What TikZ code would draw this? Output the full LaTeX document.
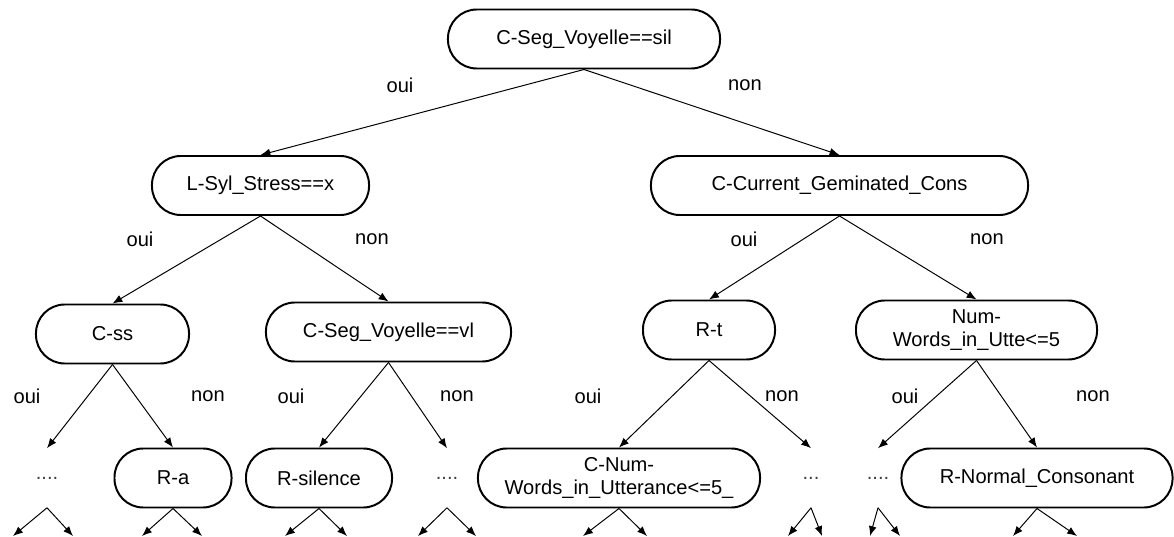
\documentclass[tikz,border=0pt]{standalone}
\usepackage{fontspec}
\setmainfont{Liberation Sans}
\usetikzlibrary{arrows.meta}
\begin{document}
\begin{tikzpicture}[x=0.025cm,y=-0.025cm,
  every node/.style={font=\fontsize{14.3}{16}\selectfont},
  box/.style={draw, line width=1.4pt, rounded corners=0.72cm, minimum height=1.475cm, inner sep=0pt, align=center},
  dotsnode/.style={minimum height=1.475cm, inner sep=0pt, text=black!75},
  conn/.style={-{Latex[length=7pt,width=5.5pt]}, line width=0.7pt}
]
\useasboundingbox (0,0) rectangle (1174,537);

% nodes
\node[box, minimum width=6.8cm] (root) at (584,39) {C-Seg\_Voyelle==sil};
\node[box, minimum width=5.425cm] (lsyl) at (260.5,185.5) {L-Syl\_Stress==x};
\node[box, minimum width=9.425cm] (cur) at (839.5,185.5) {C-Current\_Geminated\_Cons};
\node[box, minimum width=3.825cm] (css) at (112.5,334) {C-ss};
\node[box, minimum width=6.125cm] (segvl) at (388.5,332) {C-Seg\_Voyelle==vl};
\node[box, minimum width=3.3cm] (rt) at (709,330) {R-t};
\node[box, minimum width=6.025cm] (numw) at (976.5,330) {Num-\\Words\_in\_Utte<=5};
\node[dotsnode] (d1) at (47,478) {....};
\node[box, minimum width=2.925cm] (ra) at (173,478) {R-a};
\node[box, minimum width=3.65cm] (rsil) at (319,478) {R-silence};
\node[dotsnode] (d2) at (447,478) {....};
\node[box, minimum width=7.05cm] (cnum) at (619,478) {C-Num-\\Words\_in\_Utterance<=5\_};
\node[dotsnode] (d3) at (811,478) {...};
\node[dotsnode] (d4) at (878,478) {....};
\node[box, minimum width=6.775cm] (rnorm) at (1037,478) {R-Normal\_Consonant};

% labels
\node (l1) at (400,85) {oui};
\node (l2) at (745,85) {non};
\node (l3) at (140,239) {oui};
\node (l4) at (372,239) {non};
\node (l5) at (744,239) {oui};
\node (l6) at (987,239) {non};
\node (l7) at (27,396) {oui};
\node (l8) at (208,396) {non};
\node (l9) at (291,396) {oui};
\node (l10) at (457,396) {non};
\node (l11) at (588,396) {oui};
\node (l12) at (782,396) {non};
\node (l13) at (905,396) {oui};
\node (l14) at (1093,396) {non};

% connectors
\draw[conn] (root.south) -- (lsyl.north);
\draw[conn] (root.south) -- (cur.north);
\draw[conn] (lsyl.south) -- (css.north);
\draw[conn] (lsyl.south) -- (segvl.north);
\draw[conn] (cur.south) -- (rt.north);
\draw[conn] (cur.south) -- (numw.north);
\draw[conn] (css.south) -- (d1.north);
\draw[conn] (css.south) -- (ra.north);
\draw[conn] (segvl.south) -- (rsil.north);
\draw[conn] (segvl.south) -- (d2.north);
\draw[conn] (rt.south) -- (cnum.north);
\draw[conn] (rt.south) -- (d3.north);
\draw[conn] (numw.south) -- (d4.north);
\draw[conn] (numw.south) -- (rnorm.north);

% stub coordinates at the bottom edge
\coordinate (e1a) at (13,536);   \coordinate (e1b) at (73,536);
\coordinate (e2a) at (142,536);  \coordinate (e2b) at (202,536);
\coordinate (e3a) at (285,536);  \coordinate (e3b) at (347,536);
\coordinate (e4a) at (418,536);  \coordinate (e4b) at (476,536);
\coordinate (e5a) at (583,536);  \coordinate (e5b) at (647,536);
\coordinate (e6a) at (788,536);  \coordinate (e6b) at (822,536);
\coordinate (e7a) at (870,536);  \coordinate (e7b) at (900,536);
\coordinate (e8a) at (1013,536); \coordinate (e8b) at (1077,536);

\draw[conn] (d1.south) -- (e1a);    \draw[conn] (d1.south) -- (e1b);
\draw[conn] (ra.south) -- (e2a);    \draw[conn] (ra.south) -- (e2b);
\draw[conn] (rsil.south) -- (e3a);  \draw[conn] (rsil.south) -- (e3b);
\draw[conn] (d2.south) -- (e4a);    \draw[conn] (d2.south) -- (e4b);
\draw[conn] (cnum.south) -- (e5a);  \draw[conn] (cnum.south) -- (e5b);
\draw[conn] (d3.south) -- (e6a);    \draw[conn] (d3.south) -- (e6b);
\draw[conn] (d4.south) -- (e7a);    \draw[conn] (d4.south) -- (e7b);
\draw[conn] (rnorm.south) -- (e8a); \draw[conn] (rnorm.south) -- (e8b);
\end{tikzpicture}
\end{document}
